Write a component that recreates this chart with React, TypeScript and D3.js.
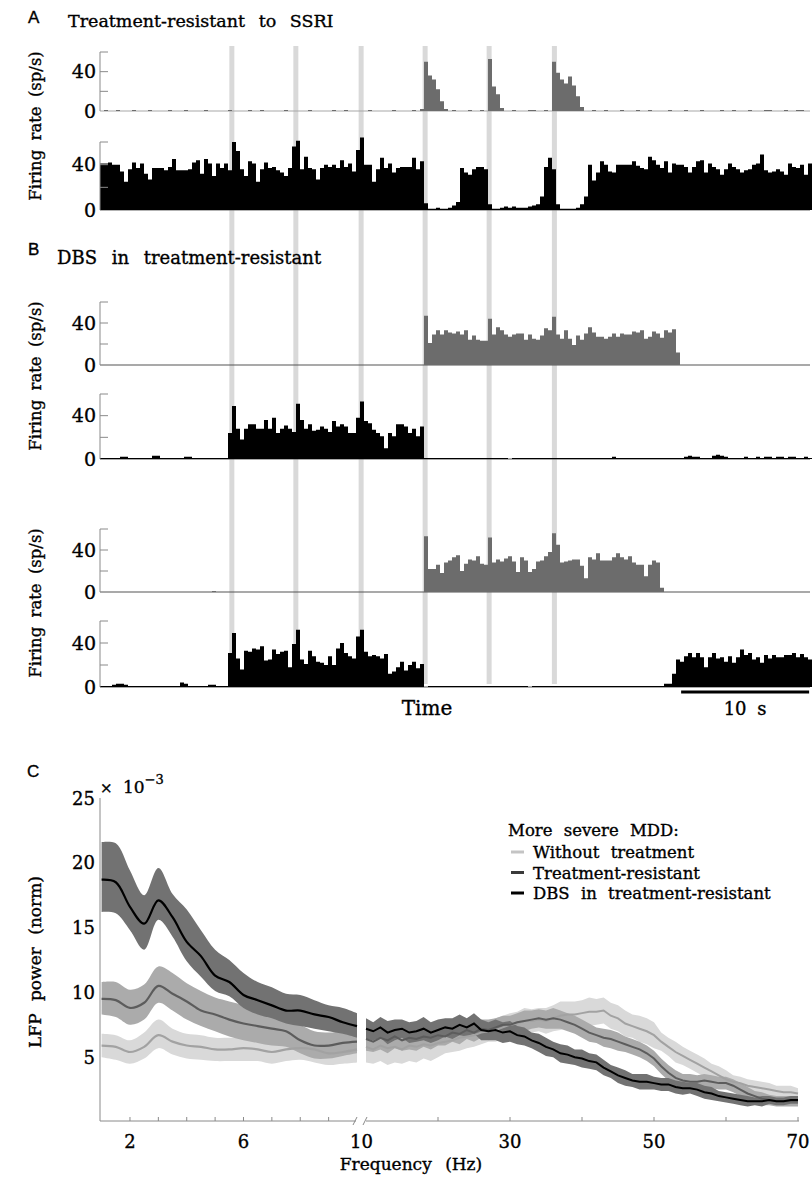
import React from 'react';
import * as d3 from 'd3';

// ---------- panel A / B : firing-rate histograms (sp/s per 0.3125 s bin) ----------
const binSec = 0.3125;
const stimTimes = [10.3, 15.3, 20.4, 25.4, 30.4, 35.5];
const scaleBarSec = [45.4, 55.4];

const rateA1 = [
  0, 1, 0, 0, 1, 0, 0, 0, 1, 0,
  0, 0, 1, 0, 0, 0, 0, 1, 0, 0,
  0, 1, 0, 0, 0, 0, 1, 0, 0, 0,
  0, 0, 1, 0, 0, 0, 0, 1, 0, 0,
  1, 0, 0, 0, 0, 0, 1, 0, 0, 0,
  0, 0, 1, 0, 0, 0, 0, 0, 1, 0,
  0, 1, 0, 0, 0, 0, 0, 1, 0, 0,
  0, 0, 0, 1, 0, 0, 0, 0, 1, 0,
  2, 50, 36, 32, 22, 10, 2, 0, 1, 0,
  0, 0, 1, 0, 0, 1, 0, 53, 25, 17,
  3, 0, 0, 1, 0, 0, 0, 1, 1, 0,
  0, 1, 0, 50, 39, 32, 28, 35, 26, 15,
  4, 0, 0, 1, 0, 0, 1, 0, 0, 0,
  1, 0, 0, 0, 1, 0, 0, 1, 0, 0,
  0, 0, 1, 0, 0, 0, 1, 0, 0, 0,
  1, 0, 0, 0, 0, 1, 0, 0, 1, 0,
  0, 0, 1, 0, 0, 0, 1, 1, 0, 0,
  0, 1, 0, 0, 1, 1, 0, 0,
];

const rateA2 = [
  41, 41, 42, 40, 40, 34, 25, 36, 42, 37,
  41, 32, 27, 37, 37, 37, 35, 38, 45, 35,
  35, 35, 36, 42, 44, 32, 45, 41, 30, 41,
  37, 41, 35, 60, 52, 36, 30, 43, 41, 25,
  36, 42, 37, 38, 35, 33, 30, 37, 56, 61,
  36, 47, 37, 36, 27, 37, 40, 38, 40, 37,
  44, 38, 41, 34, 53, 64, 40, 40, 25, 36,
  46, 37, 41, 33, 37, 38, 38, 38, 46, 36,
  43, 6, 1, 1, 2, 1, 1, 2, 4, 7,
  37, 33, 31, 36, 38, 38, 36, 5, 1, 1,
  2, 3, 2, 3, 2, 2, 2, 3, 4, 5,
  12, 38, 46, 36, 5, 1, 1, 1, 1, 2,
  5, 12, 40, 26, 33, 43, 40, 34, 33, 40,
  40, 40, 40, 43, 39, 37, 36, 47, 44, 40,
  37, 43, 33, 41, 40, 40, 38, 33, 38, 43,
  44, 33, 41, 38, 36, 31, 36, 41, 38, 36,
  33, 35, 36, 40, 41, 49, 35, 33, 34, 36,
  34, 31, 41, 38, 37, 40, 31, 41,
];

const rateB1 = [
  0, 0, 0, 0, 0, 0, 0, 0, 0, 0,
  0, 0, 0, 0, 0, 0, 0, 0, 0, 0,
  0, 0, 0, 0, 0, 0, 0, 0, 0, 0,
  0, 0, 0, 0, 0, 0, 0, 0, 0, 0,
  0, 0, 0, 0, 0, 0, 0, 0, 0, 0,
  0, 0, 0, 0, 0, 0, 0, 0, 0, 0,
  0, 0, 0, 0, 0, 0, 0, 0, 0, 0,
  0, 0, 0, 0, 0, 0, 0, 0, 0, 0,
  0, 47, 21, 29, 33, 29, 33, 31, 30, 32,
  29, 33, 24, 28, 24, 23, 23, 44, 29, 36,
  33, 29, 27, 29, 30, 30, 24, 29, 25, 24,
  28, 35, 33, 46, 29, 25, 33, 25, 19, 28,
  24, 30, 36, 31, 27, 27, 25, 27, 30, 27,
  30, 29, 29, 32, 31, 33, 25, 27, 32, 30,
  26, 33, 31, 34, 12, 0, 0, 0, 0, 0,
  0, 0, 0, 0, 0, 0, 0, 0, 0, 0,
  0, 0, 0, 0, 0, 0, 0, 0, 0, 0,
  0, 0, 0, 0, 0, 0, 0, 0,
];

const rateB2 = [
  1, 1, 1, 1, 1, 2, 2, 1, 1, 1,
  1, 1, 1, 3, 3, 1, 1, 1, 1, 1,
  1, 2, 2, 1, 1, 1, 1, 1, 1, 1,
  1, 1, 24, 49, 28, 18, 28, 32, 32, 28,
  28, 36, 28, 38, 24, 28, 31, 28, 25, 51,
  36, 28, 32, 26, 27, 30, 28, 25, 35, 30,
  32, 30, 24, 24, 38, 53, 35, 33, 27, 24,
  21, 10, 24, 21, 32, 32, 30, 24, 28, 21,
  30, 1, 1, 1, 1, 1, 1, 1, 1, 1,
  1, 1, 1, 1, 1, 1, 1, 1, 1, 1,
  1, 1, 0, 1, 1, 1, 1, 1, 1, 1,
  1, 1, 1, 1, 1, 1, 1, 1, 1, 1,
  1, 1, 1, 1, 1, 1, 1, 1, 2, 1,
  1, 1, 1, 1, 1, 1, 1, 1, 1, 1,
  1, 1, 1, 1, 1, 1, 2, 3, 2, 2,
  1, 1, 1, 3, 4, 3, 2, 1, 1, 1,
  1, 2, 1, 1, 2, 1, 2, 2, 1, 2,
  2, 1, 2, 2, 1, 1, 2, 1,
];

const rateB3 = [
  0, 0, 0, 0, 0, 0, 0, 0, 0, 0,
  0, 0, 0, 0, 0, 0, 0, 0, 0, 0,
  0, 0, 0, 0, 0, 0, 0, 0, 1, 0,
  0, 0, 0, 0, 0, 0, 0, 0, 0, 0,
  0, 0, 0, 0, 0, 0, 0, 0, 0, 0,
  0, 0, 0, 0, 0, 0, 0, 0, 0, 0,
  0, 0, 0, 0, 0, 0, 0, 0, 0, 0,
  0, 0, 0, 0, 0, 0, 0, 0, 0, 0,
  0, 53, 22, 22, 26, 18, 28, 30, 33, 35,
  20, 27, 31, 30, 34, 27, 26, 52, 28, 31,
  29, 32, 34, 29, 19, 33, 30, 19, 22, 29,
  30, 34, 38, 56, 45, 28, 29, 30, 31, 31,
  25, 13, 33, 31, 37, 30, 30, 30, 33, 37,
  33, 31, 34, 28, 26, 26, 15, 26, 30, 28,
  4, 0, 0, 0, 0, 0, 0, 0, 0, 0,
  0, 0, 0, 0, 0, 0, 0, 0, 0, 0,
  0, 0, 0, 0, 0, 0, 0, 0, 0, 0,
  0, 0, 0, 0, 0, 0, 0, 0,
];

const rateB4 = [
  1, 1, 1, 2, 3, 3, 2, 1, 1, 1,
  1, 1, 1, 1, 1, 1, 1, 1, 1, 1,
  4, 3, 1, 1, 1, 1, 1, 2, 2, 1,
  1, 1, 31, 49, 26, 16, 33, 32, 35, 34,
  37, 24, 25, 34, 30, 32, 33, 18, 39, 52,
  25, 21, 33, 28, 23, 22, 20, 28, 20, 35,
  40, 31, 28, 26, 46, 52, 32, 28, 29, 28,
  26, 30, 12, 14, 18, 23, 15, 20, 23, 17,
  21, 0, 1, 1, 1, 1, 1, 1, 1, 1,
  1, 1, 1, 1, 1, 1, 1, 1, 1, 1,
  1, 1, 1, 1, 1, 1, 1, 0, 1, 1,
  1, 1, 1, 1, 1, 1, 1, 1, 1, 1,
  1, 1, 1, 1, 1, 1, 1, 1, 1, 1,
  1, 1, 1, 1, 1, 1, 1, 1, 1, 1,
  1, 3, 3, 12, 25, 23, 28, 31, 27, 31,
  27, 18, 27, 31, 26, 27, 23, 28, 22, 27,
  34, 29, 31, 25, 27, 22, 29, 26, 29, 27,
  27, 29, 29, 31, 27, 30, 27, 25,
];

const rateTicks = [20, 40, 60];
const rateLabels = [0, 40];

// ---------- panel C : LFP power (x 10^-3) ----------
const lowFreq = [1, 1.5, 2, 2.5, 3, 3.5, 4, 4.5, 5, 5.5, 6, 6.5, 7, 7.5, 8, 8.5, 9, 9.5, 10];
const dbsLowMean = [18.7, 18.5, 16.6, 15.3, 17.1, 15.8, 13.9, 12.8, 11.3, 10.8, 9.8, 9.4, 9.0, 8.6, 8.6, 8.3, 8.1, 7.7, 7.4];
const dbsLowHi = [21.6, 21.5, 19.4, 17.5, 19.6, 17.6, 16.4, 14.8, 13.3, 12.5, 11.5, 10.8, 10.4, 9.9, 9.8, 9.4, 9.0, 8.8, 8.4];
const dbsLowLo = [16.2, 16.1, 14.8, 13.3, 15.6, 14.3, 12.4, 11.2, 10.1, 9.7, 8.8, 8.3, 8.0, 7.6, 7.4, 7.2, 7.0, 6.8, 6.5];
const trLowMean = [9.5, 9.4, 8.8, 9.2, 10.5, 9.9, 9.3, 8.6, 8.3, 7.9, 7.6, 7.4, 7.2, 7.0, 6.3, 5.9, 5.9, 6.1, 6.2];
const trLowHi = [10.8, 10.8, 10.2, 10.6, 12.0, 11.5, 10.7, 10.1, 9.6, 9.3, 9.0, 8.6, 8.4, 8.0, 7.5, 7.0, 6.9, 7.0, 7.1];
const trLowLo = [8.3, 8.1, 7.5, 7.9, 9.2, 8.6, 7.9, 7.4, 7.0, 6.6, 6.3, 6.1, 5.9, 5.8, 5.3, 4.9, 4.9, 5.1, 5.3];
const wtLowMean = [5.9, 5.8, 5.4, 5.8, 6.7, 6.2, 5.9, 5.8, 5.6, 5.6, 5.7, 5.6, 5.4, 5.6, 5.7, 5.6, 5.3, 5.4, 5.6];
const wtLowHi = [6.8, 6.7, 6.3, 6.9, 7.9, 7.2, 6.8, 6.7, 6.5, 6.5, 6.5, 6.5, 6.3, 6.4, 6.5, 6.4, 6.2, 6.3, 6.4];
const wtLowLo = [5.0, 4.8, 4.5, 4.9, 5.7, 5.2, 4.9, 4.8, 4.7, 4.7, 4.7, 4.7, 4.5, 4.7, 4.8, 4.6, 4.4, 4.5, 4.6];

const highFreq = [
  10, 11, 12, 13, 14, 15, 16, 17, 18, 19,
  20, 21, 22, 23, 24, 25, 26, 27, 28, 29,
  30, 31, 32, 33, 34, 35, 36, 37, 38, 39,
  40, 41, 42, 43, 44, 45, 46, 47, 48, 49,
  50, 51, 52, 53, 54, 55, 56, 57, 58, 59,
  60, 61, 62, 63, 64, 65, 66, 67, 68, 69,
  70,
];
const dbsHighMean = [
  7.2, 7.0, 7.3, 6.9, 7.1, 7.2, 6.9, 7.0, 7.2, 6.9,
  7.1, 7.3, 7.2, 7.5, 7.3, 7.6, 7.1, 7.0, 7.1, 6.9,
  7.0, 6.7, 6.6, 6.3, 6.1, 5.8, 5.6, 5.3, 5.2, 5.0,
  4.9, 4.7, 4.6, 4.2, 3.9, 3.6, 3.4, 3.2, 3.1, 3.1,
  3.0, 2.9, 2.9, 2.7, 2.6, 2.6, 2.5, 2.3, 2.2, 2.0,
  1.9, 1.8, 1.7, 1.6, 1.6, 1.6, 1.7, 1.6, 1.6, 1.7,
  1.7,
];
const dbsHighSd = [
  0.8, 0.7, 0.8, 0.9, 0.8, 0.7, 0.8, 0.8, 0.9, 0.8,
  0.8, 0.7, 0.8, 0.8, 0.7, 0.8, 0.8, 0.7, 0.8, 0.8,
  0.8, 0.7, 0.7, 0.6, 0.7, 0.7, 0.6, 0.7, 0.7, 0.6,
  0.7, 0.6, 0.6, 0.6, 0.5, 0.6, 0.6, 0.5, 0.6, 0.6,
  0.5, 0.5, 0.5, 0.5, 0.5, 0.4, 0.5, 0.5, 0.5, 0.4,
  0.4, 0.4, 0.4, 0.4, 0.3, 0.4, 0.3, 0.3, 0.3, 0.3,
  0.3,
];
const trHighMean = [
  6.4, 6.2, 6.5, 6.3, 6.6, 6.3, 6.5, 6.4, 6.6, 6.5,
  6.7, 6.6, 6.9, 6.8, 7.1, 6.9, 7.2, 7.1, 7.3, 7.5,
  7.5, 7.7, 7.8, 7.9, 8.0, 7.9, 8.0, 7.9, 7.7, 7.5,
  7.2, 6.9, 6.7, 6.5, 6.4, 6.2, 6.0, 5.8, 5.6, 5.3,
  4.9, 4.3, 3.8, 3.4, 3.2, 3.1, 3.1, 3.2, 3.1, 3.0,
  3.0, 2.8, 2.5, 2.2, 2.0, 1.8, 1.7, 1.6, 1.6, 1.6,
  1.6,
];
const trHighSd = [
  0.9, 0.8, 0.9, 1.0, 0.9, 0.8, 0.9, 0.9, 0.8, 0.9,
  0.8, 0.7, 0.7, 0.8, 0.7, 0.7, 0.7, 0.8, 0.7, 0.7,
  0.7, 0.7, 0.8, 0.7, 0.7, 0.7, 0.8, 0.7, 0.7, 0.7,
  0.7, 0.7, 0.6, 0.7, 0.7, 0.7, 0.6, 0.6, 0.6, 0.6,
  0.6, 0.6, 0.6, 0.6, 0.5, 0.6, 0.5, 0.5, 0.5, 0.5,
  0.5, 0.5, 0.5, 0.5, 0.4, 0.5, 0.4, 0.4, 0.4, 0.4,
  0.4,
];
const wtHighMean = [
  5.8, 5.6, 5.9, 5.7, 5.8, 5.6, 5.9, 5.8, 6.0, 5.9,
  6.1, 6.2, 6.3, 6.5, 6.6, 6.7, 6.9, 7.0, 7.1, 7.3,
  7.5, 7.6, 7.8, 7.8, 7.9, 7.8, 8.0, 8.2, 8.3, 8.3,
  8.4, 8.5, 8.5, 8.6, 8.2, 8.0, 7.6, 7.4, 7.2, 7.0,
  6.7, 6.2, 5.8, 5.4, 5.1, 4.8, 4.5, 4.2, 3.9, 3.6,
  3.3, 3.1, 3.0, 2.8, 2.7, 2.6, 2.5, 2.4, 2.3, 2.3,
  2.2,
];
const wtHighSd = [
  1.2, 1.1, 1.2, 1.3, 1.2, 1.1, 1.2, 1.2, 1.1, 1.2,
  1.1, 0.9, 0.9, 1.0, 0.9, 0.9, 0.9, 0.8, 0.9, 0.9,
  0.9, 0.9, 1.0, 0.9, 0.9, 1.0, 1.0, 1.1, 1.0, 1.0,
  1.0, 1.1, 1.0, 1.0, 1.0, 1.0, 1.0, 0.9, 1.0, 1.0,
  1.0, 0.7, 0.7, 0.8, 0.7, 0.7, 0.7, 0.7, 0.6, 0.7,
  0.7, 0.5, 0.5, 0.5, 0.5, 0.5, 0.5, 0.4, 0.5, 0.5,
  0.4,
];

const powerTicks = [5, 10, 15, 20, 25];
const lowTicks = [2, 3, 4, 5, 6, 7, 8, 9];
const lowLabels = [2, 6];
const highTicks = [20, 30, 40, 50, 60, 70];
const highLabels = [30, 50, 70];
const legendItems = ['Without treatment', 'Treatment-resistant', 'DBS in treatment-resistant'];

// ---------- styling ----------
const SERIF = '"DejaVu Serif", serif';
const SANS = '"Liberation Sans", Arial, sans-serif';
const AXIS = '#8a8a8a';

const tScale = d3.scaleLinear().domain([0, 178 * binSec]).range([100, 812]);

type HistProps = { values: number[]; color: string; y0: number; yTop: number; base: string };

function Histogram({ values, color, y0, yTop, base }: HistProps) {
  const y = d3.scaleLinear().domain([0, 60]).range([y0, yTop]);
  const pts: [number, number][] = values.map((v, i) => [i * binSec, v] as [number, number]);
  pts.push([values.length * binSec, values[values.length - 1]]);
  const area = d3
    .area<[number, number]>()
    .x((d) => tScale(d[0]))
    .y0(y(0))
    .y1((d) => y(d[1]))
    .curve(d3.curveStepAfter);
  return (
    <g>
      <line x1={100} x2={810} y1={y(0)} y2={y(0)} stroke={base} strokeWidth={1.2} />
      <path d={area(pts) || ''} fill={color} />
      <line x1={100} x2={100} y1={y(60)} y2={y(0)} stroke={AXIS} />
      {rateTicks.map((t) => (
        <line key={t} x1={100} x2={108} y1={y(t)} y2={y(t)} stroke={AXIS} />
      ))}
      {rateLabels.map((t) => (
        <text key={t} x={96} y={y(t) + 6.5} textAnchor="end" fontSize={19} fontFamily={SERIF}>
          {t}
        </text>
      ))}
    </g>
  );
}

function YLabel({ x, y, text }: { x: number; y: number; text: string }) {
  return (
    <text
      transform={`translate(${x},${y}) rotate(-90)`}
      textAnchor="middle"
      fontSize={16.5}
      fontFamily={SERIF}
      style={{ wordSpacing: '4px' }}
    >
      {text}
    </text>
  );
}

function PanelC() {
  const y = d3.scaleLinear().domain([0, 25]).range([1122, 798]);
  const xl = d3.scaleLinear().domain([1, 10]).range([101.6, 357]);
  const xh = d3.scaleLinear().domain([10, 70]).range([366, 798]);
  const smooth = d3.curveCatmullRom.alpha(0.5);

  const lowBand = (lo: number[], hi: number[]) =>
    d3
      .area<number>()
      .x((f) => xl(f))
      .y0((_, i) => y(lo[i]))
      .y1((_, i) => y(hi[i]))
      .curve(smooth)(lowFreq) || '';
  const lowLine = (m: number[]) =>
    d3
      .line<number>()
      .x((f) => xl(f))
      .y((_, i) => y(m[i]))
      .curve(smooth)(lowFreq) || '';
  const highBand = (m: number[], sd: number[]) =>
    d3
      .area<number>()
      .x((f) => xh(f))
      .y0((_, i) => y(m[i] - sd[i]))
      .y1((_, i) => y(m[i] + sd[i]))(highFreq) || '';
  const highLine = (m: number[]) =>
    d3
      .line<number>()
      .x((f) => xh(f))
      .y((_, i) => y(m[i]))(highFreq) || '';

  const series = [
    { lm: wtLowMean, lo: wtLowLo, hi: wtLowHi, hm: wtHighMean, sd: wtHighSd, band: '#d9d9d9', line: '#a2a2a2' },
    { lm: trLowMean, lo: trLowLo, hi: trLowHi, hm: trHighMean, sd: trHighSd, band: '#ababab', line: '#5c5c5c' },
    { lm: dbsLowMean, lo: dbsLowLo, hi: dbsLowHi, hm: dbsHighMean, sd: dbsHighSd, band: '#727272', line: '#000' },
  ];
  const legendColors = ['#c4c4c4', '#3a3a3a', '#000'];
  const ax = y(0) - 1;

  return (
    <g>
      {series.map((s, i) => (
        <g key={'b' + i}>
          <path d={lowBand(s.lo, s.hi)} fill={s.band} />
          <path d={highBand(s.hm, s.sd)} fill={s.band} />
        </g>
      ))}
      {series.map((s, i) => (
        <g key={'l' + i} fill="none" stroke={s.line} strokeWidth={2.2}>
          <path d={lowLine(s.lm)} />
          <path d={highLine(s.hm)} strokeWidth={2} />
        </g>
      ))}

      {/* axes */}
      <line x1={100} x2={100} y1={y(25)} y2={ax} stroke={AXIS} />
      <line x1={100} x2={356} y1={ax} y2={ax} stroke={AXIS} />
      <line x1={366} x2={799} y1={ax} y2={ax} stroke={AXIS} />
      <line x1={353} x2={357} y1={ax + 4} y2={ax - 4} stroke={AXIS} />
      <line x1={363} x2={367} y1={ax + 4} y2={ax - 4} stroke={AXIS} />
      {lowTicks.map((t) => (
        <line key={'lt' + t} x1={xl(t)} x2={xl(t)} y1={ax} y2={ax - 4} stroke={AXIS} />
      ))}
      {highTicks.map((t) => (
        <line key={'ht' + t} x1={xh(t)} x2={xh(t)} y1={ax} y2={ax - 4} stroke={AXIS} />
      ))}
      <g fontFamily={SERIF} fontSize={18}>
        {powerTicks.map((t) => (
          <text key={'p' + t} x={95} y={y(t) + 6.5} textAnchor="end">
            {t}
          </text>
        ))}
        {lowLabels.map((t) => (
          <text key={'ll' + t} x={xl(t)} y={1148} textAnchor="middle">
            {t}
          </text>
        ))}
        <text x={(xl(10) + xh(10)) / 2} y={1148} textAnchor="middle">
          10
        </text>
        {highLabels.map((t) => (
          <text key={'hl' + t} x={xh(t)} y={1148} textAnchor="middle">
            {t}
          </text>
        ))}
      </g>
      <text x={100} y={793} fontFamily={SERIF} fontSize={15}>
        ×
      </text>
      <text x={123} y={793} fontFamily={SERIF} fontSize={17}>
        10
        <tspan fontSize={13} dy={-9}>
          −3
        </tspan>
      </text>
      <text x={411} y={1170} textAnchor="middle" fontFamily={SERIF} fontSize={17} style={{ wordSpacing: '8px' }}>
        Frequency (Hz)
      </text>
      <text
        transform="translate(41,962) rotate(-90)"
        textAnchor="middle"
        fontFamily={SERIF}
        fontSize={17}
        style={{ wordSpacing: '7px' }}
      >
        LFP power (norm)
      </text>

      {/* legend */}
      <g fontFamily={SERIF} fontSize={16.5} style={{ wordSpacing: '6px' }}>
        <text x={508} y={836}>
          More severe MDD:
        </text>
        {legendItems.map((name, i) => (
          <g key={name}>
            <line x1={511} x2={524} y1={852 + i * 20.5} y2={852 + i * 20.5} stroke={legendColors[i]} strokeWidth={3} />
            <text x={533} y={858 + i * 20.5}>
              {name}
            </text>
          </g>
        ))}
      </g>
    </g>
  );
}

export default function App() {
  const rows = [
    { values: rateA1, color: '#6c6c6c', y0: 111, yTop: 52, base: '#a8a8a8' },
    { values: rateA2, color: '#000', y0: 210, yTop: 142, base: '#666' },
    { values: rateB1, color: '#6c6c6c', y0: 365, yTop: 302, base: '#555' },
    { values: rateB2, color: '#000', y0: 459, yTop: 394, base: '#555' },
    { values: rateB3, color: '#6c6c6c', y0: 592, yTop: 529, base: '#555' },
    { values: rateB4, color: '#000', y0: 687, yTop: 621, base: '#555' },
  ];

  return (
    <div style={{ position: 'absolute', left: 0, top: 0 }}>
      <svg width={812} height={1178} style={{ display: 'block', background: '#fff' }}>
        <style>{'text { stroke: #000; stroke-width: 0.35px; fill: #000; }'}</style>
        {/* stimulation markers */}
        {stimTimes.map((s) => (
          <rect key={s} x={tScale(s) - 2.5} width={5} y={46} height={638} fill="#d9d9d9" />
        ))}
        {rows.map((r, i) => (
          <Histogram key={i} {...r} />
        ))}

        {/* titles */}
        <text x={28} y={23} fontFamily={SANS} fontSize={17}>
          A
        </text>
        <text x={68} y={27} fontFamily={SERIF} fontSize={17.5} style={{ wordSpacing: '8px' }}>
          Treatment-resistant to SSRI
        </text>
        <text x={28} y={255} fontFamily={SANS} fontSize={17}>
          B
        </text>
        <text x={57} y={264} fontFamily={SERIF} fontSize={18} style={{ wordSpacing: '9px' }}>
          DBS in treatment-resistant
        </text>
        <text x={27} y={777} fontFamily={SANS} fontSize={17}>
          C
        </text>

        <YLabel x={41} y={126} text="Firing rate (sp/s)" />
        <YLabel x={41} y={376} text="Firing rate (sp/s)" />
        <YLabel x={41} y={603} text="Firing rate (sp/s)" />

        {/* time axis */}
        <text x={427} y={715} textAnchor="middle" fontFamily={SERIF} fontSize={20}>
          Time
        </text>
        <line x1={tScale(scaleBarSec[0])} x2={tScale(scaleBarSec[1])} y1={692} y2={692} stroke="#000" strokeWidth={3} />
        <text
          x={tScale((scaleBarSec[0] + scaleBarSec[1]) / 2)}
          y={715}
          textAnchor="middle"
          fontFamily={SERIF}
          fontSize={18}
          style={{ wordSpacing: '5px' }}
        >
          10 s
        </text>

        <PanelC />
      </svg>
    </div>
  );
}
